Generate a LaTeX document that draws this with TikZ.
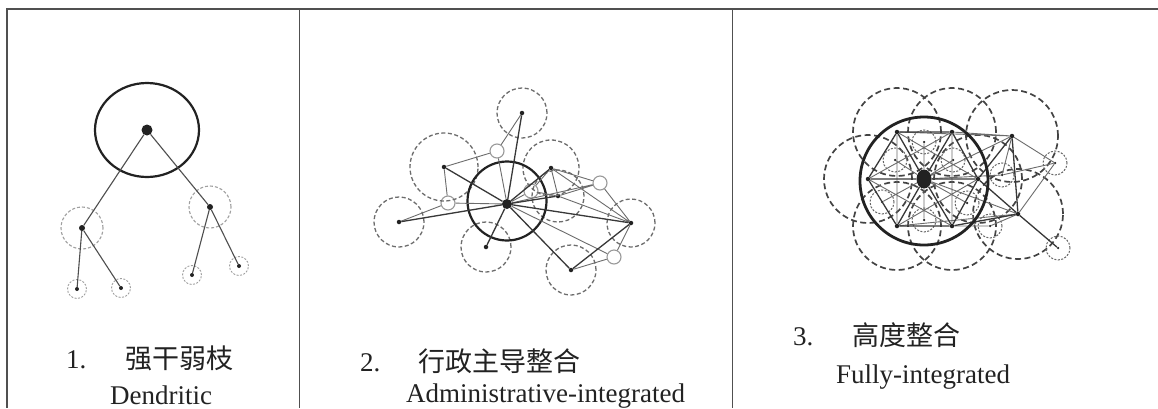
\documentclass[tikz,border=0pt]{standalone}
\usepackage{fontspec}
\setmainfont{Liberation Serif}
\newfontfamily\cjk{Noto Sans CJK SC}
\usetikzlibrary{shapes.geometric}
\definecolor{ink}{HTML}{222222}
\definecolor{tblc}{HTML}{505050}
\begin{document}
\begin{tikzpicture}[x=1pt,y=-1pt,
  tbl/.style={draw=tblc,line width=1.4pt},
  txt/.style={anchor=base west,inner sep=0pt,text=ink,font=\fontsize{27}{32}\selectfont},
  dot/.style={circle,fill=ink,inner sep=0pt,minimum size=#1},
  dot/.default=4.5pt,
  hub/.style={circle,draw=gray!80,line width=1.1pt,inner sep=0pt,minimum size=14pt},
  ring/.style={draw=ink,line width=2.2pt},
  mainln/.style={draw=ink!90,line width=1.3pt},
  subln/.style={draw=gray!85!black,line width=0.9pt},
  dlight/.style={draw=gray!75,line width=1.1pt,dash pattern=on 3pt off 2pt},
  dmid/.style={draw=gray!85!black,line width=1.3pt,dash pattern=on 4pt off 2.5pt},
  dbig/.style={draw=ink!85,line width=1.7pt,dash pattern=on 6pt off 3.5pt},
  dsmall/.style={draw=gray!80!black,line width=1pt,dash pattern=on 2pt off 1.5pt},
]
\useasboundingbox (0,0) rectangle (1158,408);
\fill[white] (0,0) rectangle (1158,408);
% table
\coordinate (tl) at (7,9);
\coordinate (tr) at (1158,9);
\draw[tbl] (tr) -- (tl) -- (7,408);
\draw[tbl] (299.5,9) -- (299.5,408);
\draw[tbl] (732.5,9) -- (732.5,408);

% ---------------- Panel 1 ----------------
\node[dot=11pt] (a0) at (147,130) {};
\node[dot=6pt] (a1) at (82,228) {};
\node[dot=6pt] (a2) at (210,207) {};
\node[dot=4pt] (a11) at (77,289) {};
\node[dot=4pt] (a12) at (121,288) {};
\node[dot=4pt] (a21) at (192,275) {};
\node[dot=4pt] (a22) at (239,266) {};
\draw[ring] (a0) ellipse (52pt and 47pt);
\draw[dlight] (a1) circle (21pt);
\draw[dlight] (a2) circle (21pt);
\foreach \n in {a11,a12,a21,a22} \draw[dlight,line width=0.9pt,dash pattern=on 2pt off 1.5pt] (\n) circle (9.5pt);
\draw[subln,draw=ink!80,line width=1.1pt] (a0) -- (a1) (a0) -- (a2)
  (a1) -- (a11) (a1) -- (a12) (a2) -- (a21) (a2) -- (a22);
\node[txt] (n1) at (66,368) {1.};
\node[txt] (z1) at (125,368) {\cjk 强干弱枝};
\node[txt] (e1) at (110,404) {Dendritic};

% ---------------- Panel 2 ----------------
\node[dot=10pt] (c2) at (507,204) {};
\node[dot] (t) at (522,113) {};
\node[dot] (ul) at (444,167) {};
\node[dot] (l) at (399,222) {};
\node[dot] (b) at (486,247) {};
\node[dot] (ur) at (551,168) {};
\node[dot] (m) at (558,196) {};
\node[dot] (r) at (631,223) {};
\node[dot] (br) at (571,270) {};
\node[hub] (h1) at (497,151) {};
\node[hub] (h2) at (448,203) {};
\node[hub] (h3) at (600,183) {};
\node[hub] (h4) at (614,257) {};
\node[hub] (h5) at (531,191) {};
\draw[dmid] (t) circle (25pt);
\draw[dmid] (ul) circle (34pt);
\draw[dmid] (l) circle (25pt);
\draw[dmid] (b) circle (25pt);
\draw[dmid] (ur) circle (28pt);
\draw[dmid] (m) circle (26pt);
\draw[dmid] (r) circle (24pt);
\draw[dmid] (br) circle (25pt);
\draw[ring] (507,201) circle (39.5pt);
\draw[subln] (t) -- (h1) (h1) -- (ul) (h1) -- (c2) (ul) -- (h2) (h2) -- (c2) (l) -- (h2)
  (ur) -- (m) (ur) -- (h3) (h3) -- (r) (ur) -- (r) (m) -- (r) (br) -- (h4) (h4) -- (r)
  (c2) -- (h3) (c2) -- (h4) (c2) -- (h5) (h5) -- (ur) (h5) -- (m) (m) -- (h3);
\draw[mainln] (c2) -- (t) (c2) -- (ul) (c2) -- (l) (c2) -- (b) (c2) -- (ur)
  (c2) -- (m) (c2) -- (r) (c2) -- (br) (br) -- (r);
\node[txt] (n2) at (360,371) {2.};
\node[txt] (z2) at (418,371) {\cjk 行政主导整合};
\node[txt] (e2) at (406,402) {Administrative-integrated};

% ---------------- Panel 3 ----------------
\node[ellipse,fill=ink,inner sep=0pt,minimum width=15pt,minimum height=19pt] (c3) at (924,179) {};
\node[dot] (v1) at (897,132) {};
\node[dot] (v2) at (952,132) {};
\node[dot] (v3) at (978,179) {};
\node[dot] (v4) at (952,226) {};
\node[dot] (v5) at (897,226) {};
\node[dot] (v6) at (868,179) {};
\node[dot] (p1) at (1012,136) {};
\node[dot] (p2) at (1018,214) {};
\node[dot=2.5pt] (s1) at (924,142) {};
\node[dot=2.5pt] (s2) at (895,160) {};
\node[dot=2.5pt] (s3) at (953,160) {};
\node[dot=2.5pt] (s4) at (882,202) {};
\node[dot=2.5pt] (s5) at (924,220) {};
\node[dot=2.5pt] (s6) at (967,203) {};
\node[dot=2.5pt] (q1) at (1055,163) {};
\node[dot=2.5pt] (q2) at (1058,248) {};
\node[dot=2.5pt] (q3) at (1002,175) {};
\node[dot=2.5pt] (q4) at (990,226) {};
% big dashed circles
\foreach \n in {v1,v2,v3,v4,v5,v6} \draw[dbig] (\n) circle (44pt);
\draw[dbig] (p1) circle (46pt);
\draw[dbig] (p2) circle (45pt);
% small dashed circles
\foreach \n in {s1,s2,s3,s4,s5,s6,q3} \draw[dsmall] (\n) circle (12pt);
\draw[dsmall] (q4) circle (12pt);
\draw[dsmall] (q1) circle (12pt);
\draw[dsmall] (q2) circle (12pt);
% thin lines
\draw[subln] (v1) -- (v3) -- (v5) -- (v1) (v2) -- (v4) -- (v6) -- (v2)
  (c3) -- (s1) (c3) -- (s2) (c3) -- (s3) (c3) -- (s4) (c3) -- (s5) (c3) -- (s6)
  (p1) -- (v2) (p1) -- (c3) (p2) -- (c3) (p1) -- (q1) (q1) -- (q3) (q3) -- (c3)
  (p2) -- (q4) (q4) -- (v4) (p1) -- (q3) (q1) -- (p2) (v1) -- (p1) (v5) -- (p2);
\draw[mainln] (v1) -- (v2) -- (v3) -- (v4) -- (v5) -- (v6) -- (v1)
  (v1) -- (c3) -- (v4) (v2) -- (c3) -- (v5) (v6) -- (c3) -- (v3)
  (p1) -- (v3) (p1) -- (p2) (p2) -- (v3) (p2) -- (v4) (p2) -- (q2);
\draw[ink,line width=2.8pt] (924,181) circle (64pt);
\node[txt] (n3) at (793,345) {3.};
\node[txt] (z3) at (852,345) {\cjk 高度整合};
\node[txt] (e3) at (836,383) {Fully-integrated};
\end{tikzpicture}
\end{document}
